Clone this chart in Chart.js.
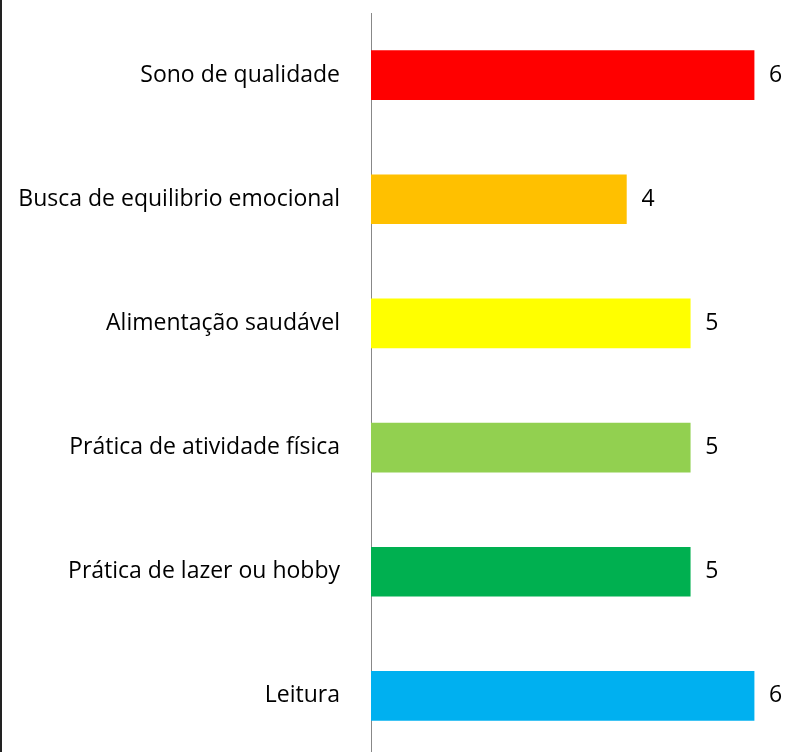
<!DOCTYPE html>
<html>
<head>
<meta charset="utf-8">
<script src="https://cdn.jsdelivr.net/npm/chart.js@4"></script>
<style>
    html, body { margin: 0; padding: 0; background: #fff; overflow: hidden; }
    canvas { display: block; }
</style>
</head>
<body>
<canvas id="myChart" width="787" height="760"></canvas>
<script>
const categories = ['Sono de qualidade', 'Busca de equilibrio emocional', 'Alimentação saudável',
    'Prática de atividade física', 'Prática de lazer ou hobby', 'Leitura'];
const values = [6, 4, 5, 5, 5, 6];
const barColors = ['#FF0000', '#FFC000', '#FFFF00', '#92D050', '#00B050', '#00B0F0'];

const FONT = '"Open Sans", sans-serif';
const FONT_SIZE = 23;

// left frame line + value labels next to each bar
const extras = {
    id: 'extras',
    afterDraw(chart) {
        const c = chart.ctx;
        c.save();
        c.fillStyle = '#222';
        c.fillRect(0, 0, 2, chart.height);

        const meta = chart.getDatasetMeta(0);
        c.font = FONT_SIZE + 'px ' + FONT;
        c.fillStyle = '#000';
        c.textAlign = 'left';
        c.textBaseline = 'middle';
        meta.data.forEach((bar, i) => {
            c.fillText(String(values[i]), bar.x + 15, bar.y);
        });
        c.restore();
    }
};

const ctx = document.getElementById('myChart');

new Chart(ctx, {
    type: 'bar',
    data: {
        labels  : categories,
        datasets: [
            {
                data           : values,
                backgroundColor: barColors,
                borderWidth    : 0,
                barThickness   : 49
            }
        ]
    },
    options: {
        indexAxis : 'y',
        responsive: false,
        animation : false,
        layout    : { padding: { top: 13, right: 1, left: 0, bottom: 2 } },
        plugins   : {
            legend : { display: false },
            tooltip: { enabled: false }
        },
        scales: {
            x: {
                display: false,
                min    : 0,
                max    : 6.5
            },
            y: {
                grid  : { display: false, drawTicks: false },
                border: { display: true, color: '#888', width: 1 },
                ticks : {
                    color  : '#000',
                    padding: 31,
                    font   : { family: FONT, size: FONT_SIZE }
                },
                afterFit(scale) {
                    scale.width = 371;
                    scale.paddingTop = 0;
                    scale.paddingBottom = 0;
                }
            }
        }
    },
    plugins: [extras]
});
</script>
</body>
</html>
